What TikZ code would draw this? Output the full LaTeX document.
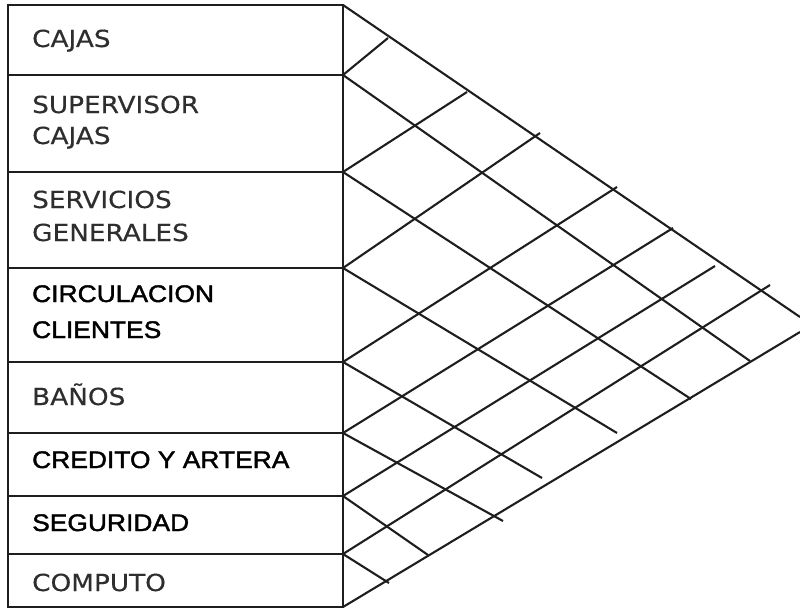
\documentclass[tikz,border=0pt]{standalone}
\usepackage{fontspec}
\newfontfamily\verd[FakeBold=0.4]{DejaVu Sans}
\newfontfamily\arl[FakeBold=1.6]{Liberation Sans}
\definecolor{ink}{HTML}{1E1E1E}
\definecolor{vtext}{HTML}{2E2E2E}
\begin{document}
\begin{tikzpicture}[x=1pt,y=-1pt,
  boxline/.style={line width=2.3pt, draw=ink},
  gridline/.style={line width=2.1pt, draw=ink},
  vlab/.style={anchor=base west, inner sep=0pt, text=vtext, font=\verd\fontsize{23.5}{23.5}\selectfont},
  alab/.style={anchor=base west, inner sep=0pt, text=black, font=\arl\fontsize{24}{24}\selectfont}]
\useasboundingbox (0,0) rectangle (800,610);
% left points on the matrix edge
\coordinate (L0) at (343,5);
\coordinate (L1) at (343,75);
\coordinate (L2) at (343,172);
\coordinate (L3) at (343,268);
\coordinate (L4) at (343,362);
\coordinate (L5) at (343,433);
\coordinate (L6) at (343,496);
\coordinate (L7) at (343,554);
\coordinate (L8) at (343,607);
\coordinate (B0) at (8,5);
\coordinate (B1) at (8,75);
\coordinate (B2) at (8,172);
\coordinate (B3) at (8,268);
\coordinate (B4) at (8,362);
\coordinate (B5) at (8,433);
\coordinate (B6) at (8,496);
\coordinate (B7) at (8,554);
\coordinate (B8) at (8,607);
% box
\draw[boxline] (B0) rectangle (L8);
\draw[boxline, line width=2.8pt] (B0) -- (B8);
\draw[boxline, line width=2.8pt] (L0) -- (L8);
\foreach \i in {1,...,7} \draw[boxline] (B\i) -- (L\i);
% end points
\coordinate (T) at (800,317);
\coordinate (Bt) at (800,332);
\coordinate (d1) at (750,361);
\coordinate (d2) at (691,399);
\coordinate (d3) at (617,433);
\coordinate (d4) at (542,478);
\coordinate (d5) at (503,521);
\coordinate (d6) at (428,555);
\coordinate (d7) at (389,583);
\coordinate (u1) at (388,38);
\coordinate (u2) at (467,92);
\coordinate (u3) at (540,133);
\coordinate (u4) at (617,187);
\coordinate (u5) at (673,228);
\coordinate (u6) at (715,266);
\coordinate (u7) at (770,285);
\draw[gridline] (L0) -- (T);
\draw[gridline] (L8) -- (Bt);
\foreach \i in {1,...,7} {
  \draw[gridline] (L\i) -- (d\i);
  \draw[gridline] (L\i) -- (u\i);
}
% labels
\node[vlab] (cajas) at (32,47) {\scalebox{1.12}[1]{CAJAS}};
\node[vlab] (sup1) at (32,113) {\scalebox{1.12}[1]{SUPERVISOR}};
\node[vlab] (sup2) at (32,144) {\scalebox{1.12}[1]{CAJAS}};
\node[vlab] (ser1) at (32,208) {\scalebox{1.12}[1]{SERVICIOS}};
\node[vlab] (ser2) at (32,241) {\scalebox{1.12}[1]{GENERALES}};
\node[alab] (cir1) at (32,302) {\scalebox{1.1}[1]{CIRCULACION}};
\node[alab] (cir2) at (32,338) {\scalebox{1.1}[1]{CLIENTES}};
\node[vlab] (banos) at (32,405) {\scalebox{1.12}[1]{BAÑOS}};
\node[alab] (cred) at (32,468) {\scalebox{1.1}[1]{CREDITO Y ARTERA}};
\node[alab] (seg) at (32,531) {\scalebox{1.1}[1]{SEGURIDAD}};
\node[vlab] (comp) at (32,591) {\scalebox{1.12}[1]{COMPUTO}};
\end{tikzpicture}
\end{document}
